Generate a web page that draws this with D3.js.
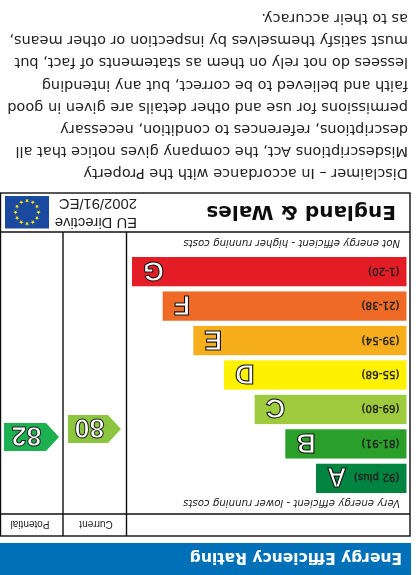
<!DOCTYPE html>
<html><head><meta charset="utf-8">
<script src="https://cdn.jsdelivr.net/npm/d3@7/dist/d3.min.js"></script>
<style>html,body{margin:0;padding:0;background:#fff}svg{display:block}</style>
</head><body><div id="c"></div>
<script>
const bands = ["A","B","C","D","E","F","G"];
const ranges = ["(92 plus)","(81-91)","(69-80)","(55-68)","(39-54)","(21-38)","(1-20)"];
const bandColors = ["#00843f","#2ca02c","#9ecb3c","#fff200","#f7ae1d","#ee6b25","#e31d25"];
const scoreKinds = ["Current","Potential"];
const scores = [80,82];
const scoreColors = ["#8cc63f","#1cb051"];
const disclaimer = [
"Disclaimer – In accordance with the Property",
"Misdescriptions Act, the company gives notice that all",
"descriptions, references to condition, necessary",
"permissions for use and other details are given in good",
"faith and believed to be correct, but any intending",
"lessees do not rely on them as statements of fact, but",
"must satisfy themselves by inspection or other means,",
"as to their accuracy."];
const title = "Energy Efficiency Rating";
const topNote = "Very energy efficient - lower running costs";
const bottomNote = "Not energy efficient - higher running costs";
const region = "England & Wales";
const directive = ["EU Directive","2002/91/EC"];

const W=416,H=575;
const svg=d3.select("#c").append("svg").attr("width",W).attr("height",H);
const defs=svg.append("defs");
defs.append("filter").attr("id","soft").attr("x","-5%").attr("y","-5%").attr("width","110%").attr("height","110%")
  .append("feGaussianBlur").attr("stdDeviation",0.45);
const g=svg.append("g").attr("transform",`rotate(180 ${W/2} ${H/2})`).attr("filter","url(#soft)");
const sans="'DejaVu Sans',sans-serif", lib="'Liberation Sans',Arial,sans-serif";

// header
g.append("rect").attr("x",5).attr("y",0).attr("width",411).attr("height",32).attr("fill","#0271b8");
g.append("text").attr("x",14).attr("y",22).attr("font-family",sans).attr("font-weight","bold").attr("font-size",15.5).attr("fill","#fff").text(title);

// frame
const frame={x0:6,x1:415.5,y0:39,y1:382,h:61,f:343,c1:289.5,c2:353};
g.append("rect").attr("x",frame.x0).attr("y",frame.y0).attr("width",frame.x1-frame.x0).attr("height",frame.y1-frame.y0).attr("fill","#fff").attr("stroke","#111").attr("stroke-width",1.4);
[[frame.x0,frame.h,frame.x1,frame.h],[frame.x0,frame.f,frame.x1,frame.f],[frame.c1,frame.y0,frame.c1,frame.f],[frame.c2,frame.y0,frame.c2,frame.f]]
 .forEach(l=>g.append("line").attr("x1",l[0]).attr("y1",l[1]).attr("x2",l[2]).attr("y2",l[3]).attr("stroke","#111").attr("stroke-width",1.4));

g.append("text").attr("x",16).attr("y",75).attr("font-family",sans).attr("font-style","italic").attr("font-size",10.2).attr("fill","#222").text(topNote);
g.append("text").attr("x",16).attr("y",335).attr("font-family",sans).attr("font-style","italic").attr("font-size",10.2).attr("fill","#222").text(bottomNote);

const yBand=d3.scaleBand().domain(bands).range([82,318]).paddingInner(0.15).paddingOuter(0);
const xEnd=d3.scalePoint().domain(bands).range([100,284]);
const x0=9.5;
const rows=g.append("g").selectAll("g").data(bands).join("g").attr("transform",d=>`translate(0,${yBand(d)})`);
rows.append("rect").attr("x",x0).attr("y",0).attr("width",d=>xEnd(d)-x0).attr("height",yBand.bandwidth()).attr("fill",(d,i)=>bandColors[i]);
rows.append("text").attr("x",x0+7).attr("y",yBand.bandwidth()/2+4).attr("font-family",sans).attr("font-size",10.3).attr("fill","#222").attr("stroke","#222").attr("stroke-width",0.4).text((d,i)=>ranges[i]);
rows.append("text").attr("x",d=>xEnd(d)-11).attr("y",yBand.bandwidth()/2+10).attr("text-anchor","end").attr("font-family",lib).attr("font-weight","bold").attr("font-size",27).attr("fill","#fff").attr("stroke","#111").attr("stroke-width",1.1).text(d=>d);

// score columns
const yScore=d3.scaleLinear().domain([80,82]).range([146,138]);
const colL=d3.scaleOrdinal().domain(scoreKinds).range([295,357]);
const hh=14, arrowW=[53,55], tip=13;
const sg=g.append("g").selectAll("g").data(scores).join("g").attr("transform",(d,i)=>`translate(${colL(scoreKinds[i])},${yScore(d)})`);
sg.append("path").attr("d",(d,i)=>d3.line()([[0,0],[tip,-hh],[arrowW[i],-hh],[arrowW[i],hh],[tip,hh]])+"Z").attr("fill",(d,i)=>scoreColors[i]);
sg.append("text").attr("x",(d,i)=>(tip+arrowW[i])/2-1.5).attr("y",9.5).attr("text-anchor","middle").attr("font-family",lib).attr("font-weight","bold").attr("font-size",27).attr("fill","#fff").attr("stroke","#222").attr("stroke-width",1).text(d=>d);
g.append("g").selectAll("text").data(scoreKinds).join("text")
 .attr("x",(d,i)=>i?386:320).attr("y",53.5).attr("text-anchor","middle").attr("font-family",lib).attr("font-size",10).attr("fill","#222").text(d=>d);

// lower panel
g.append("text").attr("x",20).attr("y",369).attr("font-family",sans).attr("font-weight","bold").attr("font-size",20).attr("fill","#111").text(region);
g.selectAll(null).data(directive).join("text").attr("x",279).attr("y",(d,i)=>357+i*19).attr("font-family",lib).attr("font-size",14.8).attr("fill","#222").text(d=>d);
const flag=g.append("g").attr("transform","translate(367,346.5)");
flag.append("rect").attr("width",44).attr("height",32.5).attr("fill","#1f4aa0");
flag.selectAll("path").data(d3.range(12)).join("path")
 .attr("d",d3.symbol(d3.symbolStar,6)).attr("fill","#ffed00")
 .attr("transform",d=>`translate(${22+11.5*Math.sin(d/12*2*Math.PI)},${16.25-11.5*Math.cos(d/12*2*Math.PI)})`);

// disclaimer
g.append("g").selectAll("text").data(disclaimer).join("text")
 .attr("x",8).attr("y",(d,i)=>406+i*22.1).attr("font-family",sans).attr("font-size",14.5).attr("fill","#222").text(d=>d);
</script></body></html>
